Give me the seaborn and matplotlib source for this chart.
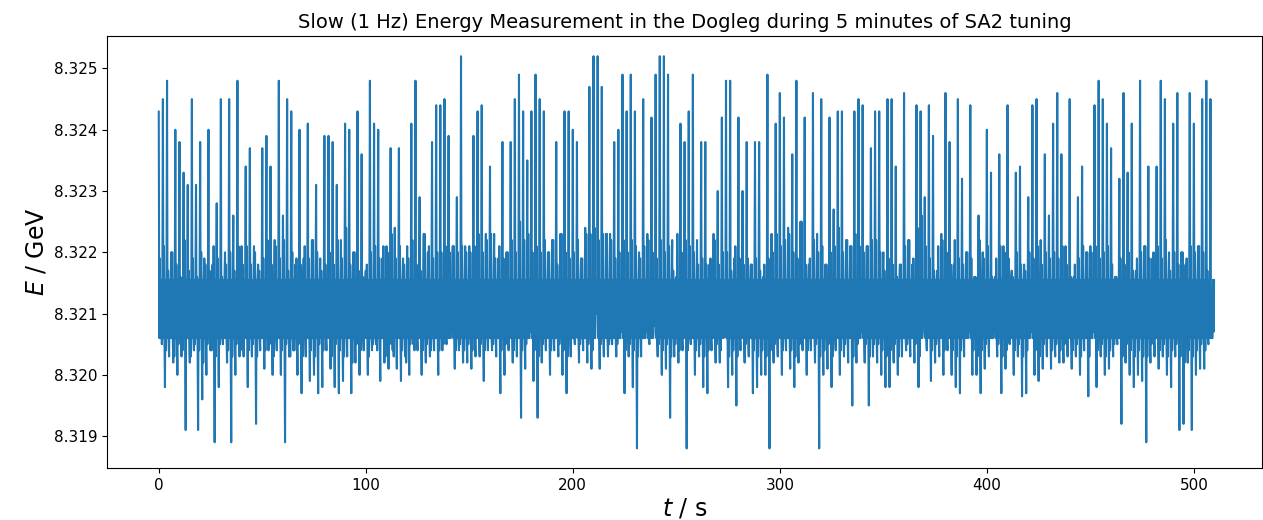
import numpy as np
import pandas as pd
import matplotlib
matplotlib.use("Agg")
import matplotlib.pyplot as plt
from matplotlib.ticker import FormatStrFormatter, MultipleLocator
import seaborn as sns

# Beam energy readings, in MeV above 8320 MeV.  Every 2 s window holds one
# upper excursion, one lower excursion and a smaller excursion to each edge
# of the core band; in between, the energy jitters inside the core band.
# Samples are 0.25 s apart.
BASE_GEV = 8.320
CORE_TOP_MEV = 1.55
CORE_BOTTOM_MEV = 0.6
SAMPLE_STEP_S = 0.25

upper_mev = [
    4.3, 4.5, 4.8, 2.0, 4.0, 3.8, 3.3, 3.1, 4.5, 3.1, 3.8, 1.9, 4.0, 1.8, 2.8, 4.5, 2.0, 4.5, 2.6, 4.8, 2.1,
    3.4, 3.7, 2.1, 1.8, 3.7, 3.9, 3.4, 2.2, 4.8, 2.6, 4.5, 4.3, 1.8, 4.0, 1.9, 4.1, 2.2, 3.1, 1.9, 3.9, 3.9, 3.8,
    3.1, 2.2, 4.1, 4.0, 2.0, 4.3, 3.6, 1.7, 4.8, 4.1, 4.0, 1.9, 2.1, 3.7, 2.4, 3.7, 1.9, 2.1, 4.1, 4.8, 2.9,
    2.3, 2.0, 3.8, 4.4, 4.4, 4.5, 3.9, 2.1, 2.9, 5.2, 2.1, 2.1, 3.9, 4.3, 4.4, 2.3, 3.4, 2.3, 1.9, 3.8, 2.0, 3.8,
    4.5, 4.9, 4.3, 3.5, 4.3, 4.9, 4.5, 4.3, 2.0, 2.2, 3.8, 2.3, 4.3, 4.3, 4.0, 3.8, 1.9, 2.4, 4.7, 5.2, 5.2, 4.7,
    2.3, 2.3, 3.8, 4.0, 4.9, 4.3, 4.9, 4.3, 2.0, 4.5, 2.3, 4.2, 4.9, 5.2, 5.2, 4.9, 2.2, 1.6, 4.1, 3.8, 4.3,
    4.9, 2.2, 3.8, 3.8, 1.8, 2.3, 3.0, 4.2, 4.8, 4.8, 1.9, 4.2, 3.0, 3.8, 1.8, 3.8, 3.8, 1.6, 4.9, 2.3, 4.1, 4.6,
    4.2, 2.4, 3.6, 4.8, 2.5, 4.2, 1.8, 4.6, 2.3, 4.5, 1.8, 4.2, 2.7, 4.3, 4.3, 2.2, 2.1, 4.3, 4.5, 4.4, 2.1, 3.7,
    4.3, 4.3, 2.0, 4.5, 4.5, 3.4, 1.8, 4.6, 2.2, 1.8, 4.4, 4.3, 2.9, 4.4, 3.9, 1.7, 2.3, 4.6, 3.8, 1.8, 4.5, 3.2,
    2.0, 4.4, 1.6, 2.6, 2.0, 4.0, 3.3, 1.6, 3.6, 2.1, 4.4, 1.7, 3.3, 3.4, 1.8, 2.9, 4.4, 4.5, 2.2, 3.6, 2.6, 4.1,
    4.6, 3.6, 2.1, 4.5, 1.6, 2.9, 3.4, 2.0, 2.1, 4.4, 4.8, 4.5, 4.1, 3.7, 1.6, 3.2, 4.6, 3.3, 4.1, 1.7, 4.8,
    2.1, 3.4, 1.9, 3.4, 4.8, 4.5, 2.0, 4.1, 4.6, 2.0, 1.8, 4.6, 4.1, 2.1, 4.5, 4.8, 4.5,
]

lower_mev = [
    0.6, -0.2, 0.3, 0.2, 0.0, 0.3, -0.9, 0.2, 0.4, -0.9, -0.4, 0.0, 0.4, -1.1, -0.2, 0.5, 0.2, -1.1, 0.0, 0.3, 0.3,
    -0.2, 0.3, -0.8, 0.4, 0.1, 0.4, 0.0, 0.4, 0.0, -1.1, 0.3, 0.4, 0.0, -0.3, 0.3, -0.1, 0.0, -0.3, -0.2, 0.4, 0.1, -0.2,
    -0.3, -0.1, 0.3, -0.3, 0.2, 0.0, 0.4, 0.0, 0.4, 0.5, -0.1, 0.2, 0.1, 0.4, 0.1, -0.1, 0.3, 0.0, 0.5, 0.4, 0.0,
    0.2, 0.3, 0.4, 0.0, 0.4, 0.5, 0.6, 0.1, 0.4, 0.2, 0.2, 0.1, 0.3, 0.3, -0.1, 0.4, 0.4, 0.3, -0.3, 0.0, 0.4, 0.2,
    0.3, -0.7, 0.1, 0.6, -0.1, -0.7, 0.2, 0.4, 0.0, 0.4, 0.3, 0.0, -0.3, 0.3, 0.5, 0.2, 0.4, 0.2, 0.1, 0.9, 0.1, 0.3,
    0.3, 0.5, 0.3, 0.6, -0.3, 0.3, -0.2, -1.2, 0.3, 0.6, 0.5, 0.7, 0.3, 0.0, 0.1, -0.7, 0.3, 0.2, 0.4, -1.2, 0.5,
    0.0, 0.3, -0.2, -0.3, 0.4, 0.2, 0.2, 0.7, -0.2, 0.0, -0.5, 0.4, 0.2, 0.3, -0.3, -0.2, 0.0, 0.0, -1.2, 0.2, 0.3, 0.0,
    0.4, 0.1, -0.2, 0.2, 0.4, 0.0, 0.4, 0.2, -1.2, 0.0, 0.1, -0.2, 0.4, 0.0, 0.3, 0.2, -0.5, 0.2, 0.6, 0.2, -0.5, 0.3,
    0.2, 0.0, -0.2, -0.2, 0.2, 0.0, 0.3, 0.4, 0.3, 0.2, -0.2, 0.7, 0.4, -0.1, 0.2, 0.3, 0.0, 0.4, 0.0, -0.2, -0.3, 0.3,
    0.6, 0.0, 0.0, -0.3, 0.1, 0.3, 0.6, 0.3, -0.3, 0.1, 0.5, 0.0, 0.3, -0.35, -0.3, 0.6, 0.0, -0.1, 0.1, 0.3, 0.1, 0.3,
    0.2, 0.2, 0.3, 0.1, 0.3, 0.0, 0.4, -0.35, 0.6, -0.2, 0.3, 0.0, 0.1, 0.3, 0.5, -0.8, 0.2, 0.0, -0.2, 0.0, -0.1,
    -1.1, 0.2, 0.3, 0.1, 0.3, 0.0, -0.2, 0.3, -0.9, -0.8, 0.2, -0.9, 0.0, 0.1, 0.1, 0.5, 0.6,
]

# Smaller excursions that form the ragged edges of the core band
edge_top_mev = [
    1.9, 2.1, 1.7, 2.0, 1.8, 1.6, 2.2, 1.7, 1.9, 1.6, 2.0, 1.8, 1.7, 2.1, 1.9, 1.6, 1.8, 2.0, 1.7, 2.1, 1.8,
    2.1, 1.8, 2.0, 1.7, 1.9, 2.2, 1.8, 2.1, 1.9, 2.2, 1.7, 2.0, 1.9, 1.8, 2.1, 1.9, 2.2, 2.0, 1.7, 1.8, 2.0, 1.8,
    2.2, 1.9, 2.4, 1.8, 2.0, 1.7, 1.6, 1.8, 2.0, 2.1, 1.9, 2.1, 2.0, 2.3, 1.9, 2.1, 1.8, 1.9, 2.2, 1.8, 1.7,
    2.3, 2.1, 1.9, 2.0, 2.0, 2.1, 2.0, 2.1, 2.0, 2.1, 2.0, 2.0, 2.1, 2.3, 2.0, 2.2, 2.3, 1.9, 2.1, 1.9, 2.0, 2.2,
    2.0, 2.5, 2.2, 2.3, 2.0, 2.1, 2.0, 2.2, 2.0, 2.2, 1.8, 2.3, 2.0, 1.9, 2.0, 2.2, 1.9, 2.3, 2.3, 2.4, 2.2, 2.3,
    2.3, 2.2, 1.9, 2.0, 2.2, 2.0, 2.2, 2.1, 1.9, 2.1, 2.2, 2.0, 1.9, 2.2, 2.0, 2.1, 1.7, 2.3, 2.0, 2.2, 2.1,
    2.0, 1.8, 1.9, 1.8, 1.9, 2.2, 1.8, 2.0, 2.0, 1.7, 2.1, 1.9, 1.8, 1.9, 1.8, 1.9, 1.7, 1.8, 1.9, 2.0, 2.3, 2.1,
    2.2, 2.3, 2.0, 1.9, 2.5, 1.8, 1.9, 2.2, 2.0, 2.1, 1.8, 2.0, 2.1, 2.4, 2.0, 2.2, 2.1, 2.3, 2.1, 2.0, 2.1, 2.2,
    2.2, 2.0, 1.7, 1.9, 1.8, 1.6, 1.8, 2.1, 2.2, 1.9, 2.4, 2.6, 2.1, 1.9, 1.7, 2.1, 2.2, 2.0, 1.8, 2.2, 1.9, 1.8,
    2.0, 1.9, 1.6, 2.2, 1.9, 2.1, 1.6, 1.9, 2.1, 2.0, 1.9, 1.6, 2.0, 1.8, 1.7, 2.0, 1.9, 2.1, 1.8, 2.0, 1.9, 2.0,
    1.9, 2.1, 1.8, 1.6, 1.8, 1.9, 2.1, 2.0, 2.0, 2.1, 1.9, 2.0, 2.1, 1.8, 1.6, 1.9, 1.8, 2.0, 1.7, 1.9, 2.0,
    2.1, 1.9, 2.0, 2.1, 1.9, 2.2, 1.7, 2.0, 1.8, 2.0, 1.9, 2.1, 2.0, 2.1, 2.0, 1.7, 1.4,
]

edge_bottom_mev = [
    0.5, 0.4, 0.6, 0.3, 0.5, 0.4, 0.6, 0.3, 0.5, 0.4, 0.2, 0.5, 0.4, 0.3, 0.5, 0.6, 0.4, 0.3, 0.5, 0.4, 0.6,
    0.4, 0.5, 0.3, 0.6, 0.4, 0.5, 0.3, 0.6, 0.4, 0.5, 0.3, 0.4, 0.5, 0.3, 0.6, 0.4, 0.3, 0.5, 0.4, 0.6, 0.3, 0.5,
    0.4, 0.3, 0.6, 0.2, 0.5, 0.4, 0.6, 0.3, 0.5, 0.4, 0.6, 0.3, 0.5, 0.3, 0.6, 0.4, 0.2, 0.5, 0.4, 0.6, 0.4,
    0.5, 0.4, 0.6, 0.4, 0.5, 0.6, 0.7, 0.4, 0.5, 0.4, 0.5, 0.4, 0.6, 0.5, 0.4, 0.6, 0.5, 0.6, 0.4, 0.5, 0.6, 0.4,
    0.6, 0.4, 0.5, 0.7, 0.4, 0.3, 0.5, 0.6, 0.4, 0.6, 0.5, 0.4, 0.3, 0.6, 0.7, 0.5, 0.6, 0.5, 0.4, 1.0, 0.5, 0.6,
    0.5, 0.6, 0.5, 0.7, 0.4, 0.5, 0.4, 0.3, 0.6, 0.7, 0.6, 0.8, 0.5, 0.4, 0.5, 0.3, 0.5, 0.4, 0.6, 0.4, 0.6,
    0.4, 0.5, 0.3, 0.4, 0.6, 0.5, 0.4, 0.7, 0.3, 0.4, 0.3, 0.6, 0.5, 0.6, 0.4, 0.3, 0.4, 0.3, 0.4, 0.5, 0.6, 0.4,
    0.6, 0.4, 0.3, 0.5, 0.6, 0.4, 0.6, 0.5, 0.3, 0.4, 0.5, 0.3, 0.6, 0.4, 0.5, 0.6, 0.3, 0.5, 0.7, 0.5, 0.3, 0.5,
    0.5, 0.4, 0.3, 0.4, 0.5, 0.3, 0.6, 0.5, 0.6, 0.5, 0.3, 0.8, 0.6, 0.4, 0.5, 0.6, 0.4, 0.6, 0.4, 0.3, 0.4, 0.6,
    0.7, 0.4, 0.3, 0.4, 0.5, 0.6, 0.7, 0.5, 0.3, 0.4, 0.6, 0.4, 0.5, 0.3, 0.4, 0.7, 0.4, 0.3, 0.5, 0.6, 0.4, 0.5,
    0.4, 0.5, 0.6, 0.4, 0.5, 0.3, 0.6, 0.3, 0.7, 0.4, 0.5, 0.3, 0.4, 0.5, 0.6, 0.3, 0.5, 0.4, 0.3, 0.4, 0.3,
    0.3, 0.5, 0.6, 0.4, 0.5, 0.3, 0.4, 0.5, 0.3, 0.2, 0.4, 0.3, 0.4, 0.5, 0.4, 0.6, 0.7,
]

title = "Slow (1 Hz) Energy Measurement in the Dogleg during 5 minutes of SA2 tuning"
x_label = "$t$ / s"
y_label = "$E$ / GeV"

n_win = len(upper_mev)
assert len(lower_mev) == n_win and len(edge_top_mev) == n_win and len(edge_bottom_mev) == n_win

# Sequence in each window: upper, core bottom, edge top, core bottom,
# lower, core top, edge bottom, core top
energy_mev = np.empty(8 * n_win)
energy_mev[0::8] = upper_mev
energy_mev[1::8] = CORE_BOTTOM_MEV
energy_mev[2::8] = edge_top_mev
energy_mev[3::8] = CORE_BOTTOM_MEV
energy_mev[4::8] = lower_mev
energy_mev[5::8] = CORE_TOP_MEV
energy_mev[6::8] = edge_bottom_mev
energy_mev[7::8] = CORE_TOP_MEV
time_s = np.arange(len(energy_mev)) * SAMPLE_STEP_S
df = pd.DataFrame({"t": time_s, "E": BASE_GEV + energy_mev / 1000.0})

sns.set_style("ticks")
plt.rcParams.update({
    "font.family": ["DejaVu Sans"],
    "axes.edgecolor": "black",
    "xtick.color": "black",
    "ytick.color": "black",
    "axes.labelcolor": "black",
    "text.color": "black",
    "axes.linewidth": 0.8,
    "mathtext.fontset": "dejavusans",
})

fig = plt.figure(figsize=(12.63, 5.20), dpi=100)
ax = fig.add_axes([107 / 1263, 1 - 468 / 520, (1262 - 107) / 1263, (468 - 36) / 520])

sns.lineplot(data=df, x="t", y="E", ax=ax, color="#1f77b4", linewidth=1.5,
             estimator=None, sort=False)

ax.set_xlim(-25.0, 532.9)
ax.set_ylim(8.31848, 8.32553)
ax.xaxis.set_major_locator(MultipleLocator(100))
ax.yaxis.set_major_locator(MultipleLocator(0.001))
ax.yaxis.set_major_formatter(FormatStrFormatter("%.3f"))
ax.tick_params(axis="both", labelsize=11, length=3.5, width=0.8, direction="out")

ax.set_xlabel(x_label, fontsize=17, labelpad=3)
ax.set_ylabel(y_label, fontsize=17, labelpad=4)
ax.set_title(title, fontsize=14, pad=6)

for side in ["top", "right", "left", "bottom"]:
    ax.spines[side].set_visible(True)
    ax.spines[side].set_color("black")

fig.savefig("out.png", dpi=100)
